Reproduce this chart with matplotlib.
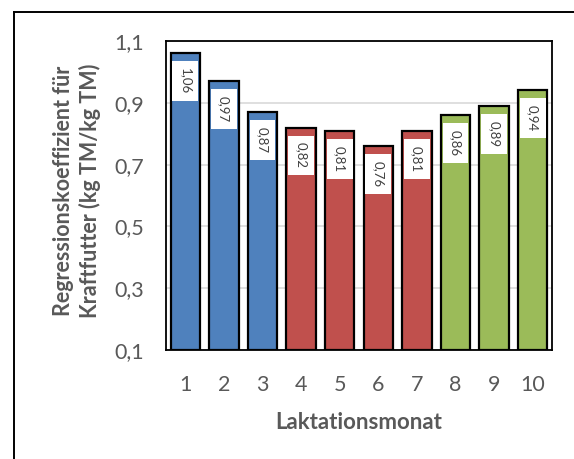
import matplotlib
matplotlib.use("Agg")
import matplotlib.pyplot as plt
from matplotlib.lines import Line2D
import numpy as np

months = ["1", "2", "3", "4", "5", "6", "7", "8", "9", "10"]
values = [1.06, 0.97, 0.87, 0.82, 0.81, 0.76, 0.81, 0.86, 0.89, 0.94]
labels = ["1,06", "0,97", "0,87", "0,82", "0,81", "0,76", "0,81", "0,86", "0,89", "0,94"]
group_colors = ["#4F81BD"] * 3 + ["#C0504D"] * 4 + ["#9BBB59"] * 3
yticks = [0.1, 0.3, 0.5, 0.7, 0.9, 1.1]
ytick_labels = ["0,1", "0,3", "0,5", "0,7", "0,9", "1,1"]

plt.rcParams['font.family'] = ['Lato', 'DejaVu Sans']
gray = "#595959"

fig = plt.figure(figsize=(5.74, 4.59), dpi=100)
ax = fig.add_axes([166/574, 1 - 350/459, (552-166)/574, (350-41)/459])

x = np.arange(len(months))
base = 0.1
vals = np.array(values)
ax.bar(x, vals - base, bottom=base, width=0.76, color=group_colors,
       edgecolor="black", linewidth=1.6, zorder=3)

# white label boxes (inside end)
box_h = 0.129
box_off = 0.026
ax.bar(x, [box_h] * len(x), bottom=vals - box_off - box_h, width=0.67,
       color="white", linewidth=0, zorder=4)
for xi, v, lab in zip(x, vals, labels):
    ax.text(xi, v - box_off - box_h / 2, lab, rotation=-90, ha="center", va="center",
            fontsize=9.5, color="#404040", zorder=5)

ax.set_xlim(-0.5, len(months) - 0.5)
ax.set_ylim(0.1, 1.1)
ax.set_yticks(yticks)
ax.set_yticklabels(ytick_labels)
ax.set_xticks(x)
ax.set_xticklabels(months)
ax.tick_params(axis="both", length=0, labelsize=15.5, colors=gray)
ax.tick_params(axis="y", pad=16)
ax.tick_params(axis="x", pad=18)
ax.yaxis.grid(True, color="#D9D9D9", linewidth=1.2, zorder=0)
ax.set_axisbelow(True)
for s in ax.spines.values():
    s.set_color("black")
    s.set_linewidth(1.3)

ax.set_xlabel("Laktationsmonat", fontsize=16, fontweight="bold", color=gray, labelpad=12)
fig.text(77/574, 1 - 191/459, "Regressionskoeffizient für\nKraftfutter (kg TM/kg TM)",
         rotation=90, ha="center", va="center", fontsize=15.5, fontweight="bold",
         color=gray, linespacing=1.25)

# outer chart frame
fig.add_artist(Line2D([14/574, 14/574], [0, 1 - 12/459], transform=fig.transFigure,
                      color="black", linewidth=1.4))
fig.add_artist(Line2D([14/574, 1.0], [1 - 12/459, 1 - 12/459], transform=fig.transFigure,
                      color="black", linewidth=1.4))

fig.savefig("out.png", dpi=100)
